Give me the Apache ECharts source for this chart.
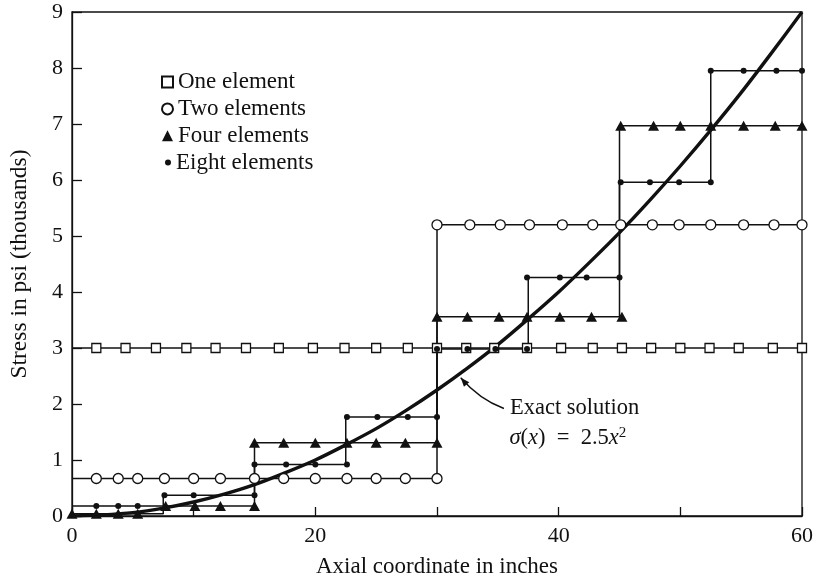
<!DOCTYPE html>
<html>
<head>
<meta charset="utf-8">
<script src="https://cdn.jsdelivr.net/npm/echarts@6/dist/echarts.min.js"></script>
<style>
  html, body { margin: 0; padding: 0; background: #fff; }
  #main { width: 826px; height: 587px; }
</style>
</head>
<body>
<div id="main"></div>
<script>
// step outlines, [x, stress]
var oneStep = [[0, 3], [60, 3]];
var twoStep = [[0, 0.67], [30, 0.67], [30, 5.2], [60, 5.2]];
var fourStep = [[0, 0.18], [15, 0.18], [15, 1.31], [30, 1.31], [30, 3.56], [45, 3.56], [45, 6.97], [60, 6.97]];
var eightStep = [[0, 0.04], [7.5, 0.04], [7.5, 0.37], [15, 0.37], [15, 0.92], [22.5, 0.92], [22.5, 1.77], [30, 1.77],
                 [30, 2.98], [37.5, 2.98], [37.5, 4.26], [45, 4.26], [45, 5.96], [52.5, 5.96], [52.5, 7.95], [60, 7.95]];

// marker positions
var oneMarks = [[2.0, 3], [4.4, 3], [6.9, 3], [9.4, 3], [11.8, 3], [14.3, 3], [17.0, 3], [19.8, 3], [22.4, 3], [25.0, 3],
                [27.6, 3], [30.0, 3], [32.4, 3], [34.7, 3], [37.4, 3], [40.2, 3], [42.8, 3], [45.2, 3], [47.6, 3], [50.0, 3],
                [52.4, 3], [54.8, 3], [57.6, 3], [60, 3]];
var twoMarks = [[2.0, 0.67], [3.8, 0.67], [5.4, 0.67], [7.6, 0.67], [10.0, 0.67], [12.2, 0.67], [15.0, 0.67], [17.4, 0.67],
                [20.0, 0.67], [22.6, 0.67], [25.0, 0.67], [27.4, 0.67], [30.0, 0.67],
                [30.0, 5.2], [32.7, 5.2], [35.2, 5.2], [37.6, 5.2], [40.3, 5.2], [42.8, 5.2], [45.1, 5.2], [47.7, 5.2],
                [49.9, 5.2], [52.5, 5.2], [55.2, 5.2], [57.7, 5.2], [60, 5.2]];
var fourMarks = [[0, 0.04], [2.0, 0.04], [3.8, 0.04], [5.4, 0.04],
                 [7.7, 0.18], [10.1, 0.18], [12.2, 0.18], [15.0, 0.18],
                 [15.0, 1.31], [17.4, 1.31], [20.0, 1.31], [22.6, 1.31], [25.0, 1.31], [27.4, 1.31], [30.0, 1.31],
                 [30.0, 3.56], [32.5, 3.56], [35.1, 3.56], [37.4, 3.56], [40.1, 3.56], [42.7, 3.56], [45.2, 3.56],
                 [45.1, 6.97], [47.8, 6.97], [50.0, 6.97], [52.5, 6.97], [55.2, 6.97], [57.8, 6.97], [60, 6.97]];
var eightMarks = [[2.0, 0.18], [3.8, 0.18], [5.4, 0.18],
                  [7.6, 0.37], [10.0, 0.37], [15.0, 0.37],
                  [15.0, 0.92], [17.6, 0.92], [20.0, 0.92], [22.6, 0.92],
                  [22.6, 1.77], [25.1, 1.77], [27.6, 1.77], [30.0, 1.77],
                  [30.0, 2.98], [32.5, 2.98], [34.8, 2.98], [37.4, 2.98],
                  [37.4, 4.26], [40.1, 4.26], [42.3, 4.26], [45.0, 4.26],
                  [45.1, 5.96], [47.5, 5.96], [49.9, 5.96], [52.5, 5.96],
                  [52.5, 7.95], [55.2, 7.95], [57.9, 7.95], [60, 7.95]];

// exact solution curve, read at every 2.5 in
var exactX = [0, 2.5, 5, 7.5, 10, 12.5, 15, 17.5, 20, 22.5, 25, 27.5, 30, 32.5, 35, 37.5, 40, 42.5, 45, 47.5, 50, 52.5, 55, 57.5, 60];
var exactY = [0, 0.02, 0.06, 0.14, 0.25, 0.39, 0.56, 0.77, 1.0, 1.27, 1.56, 1.89, 2.25, 2.64, 3.06, 3.52, 4.0, 4.52, 5.06, 5.64, 6.25, 6.89, 7.56, 8.27, 9.0];

var xTicks = [0, 20, 40, 60];

var ink = '#111';
var serif = 'Liberation Serif';

var exact = [];
for (var i = 0; i < exactX.length; i++) exact.push([exactX[i], exactY[i]]);

function stepLine(name, data) {
  return {
    name: name, type: 'line', data: data, symbol: 'none', silent: true,
    lineStyle: { color: ink, width: 1.5 }, z: 2
  };
}

var chart = echarts.init(document.getElementById('main'));
var option = {
  animation: false,
  backgroundColor: '#fff',
  grid: { left: 70, right: 24, top: 12, bottom: 71, show: true, borderColor: ink, borderWidth: 1.3 },
  legend: [{
    data: ['One element', 'Two elements', 'Four elements'],
    orient: 'vertical', left: 156, top: 65.5,
    itemWidth: 11, itemHeight: 11, itemGap: 3.9,
    textStyle: { fontFamily: serif, fontSize: 23, color: ink }
  }, {
    data: ['Eight elements'],
    orient: 'vertical', left: 160, top: 146,
    itemWidth: 6, itemHeight: 6,
    textStyle: { fontFamily: serif, fontSize: 23, color: ink }
  }],
  xAxis: {
    type: 'value', min: 0, max: 60, interval: 10,
    name: 'Axial coordinate in inches', nameLocation: 'middle', nameGap: 39,
    nameTextStyle: { fontFamily: serif, fontSize: 23, color: ink },
    axisLine: { lineStyle: { color: ink, width: 1.3 } },
    axisTick: { inside: true, length: 9, lineStyle: { color: ink, width: 1.3 } },
    axisLabel: {
      fontFamily: serif, fontSize: 22, color: ink, margin: 9,
      formatter: function (v) { return xTicks.indexOf(v) >= 0 ? String(v) : ''; }
    },
    splitLine: { show: false }
  },
  yAxis: {
    type: 'value', min: 0, max: 9, interval: 1,
    name: 'Stress in psi (thousands)', nameLocation: 'middle', nameGap: 40,
    nameTextStyle: { fontFamily: serif, fontSize: 23.5, color: ink },
    axisLine: { lineStyle: { color: ink, width: 1.3 } },
    axisTick: { inside: true, length: 10, lineStyle: { color: ink, width: 1.3 } },
    axisLabel: { fontFamily: serif, fontSize: 22, color: ink, margin: 9 },
    splitLine: { show: false }
  },
  series: [
    stepLine('one-line', oneStep),
    stepLine('two-line', twoStep),
    stepLine('four-line', fourStep),
    stepLine('eight-line', eightStep),
    {
      name: 'Exact solution', type: 'line', data: exact, symbol: 'none', smooth: 0.3, silent: true,
      lineStyle: { color: ink, width: 3.4 }, z: 3
    },
    {
      name: 'One element', type: 'scatter', data: oneMarks, symbol: 'rect', symbolSize: 9,
      itemStyle: { color: '#fff', borderColor: ink, borderWidth: 1.3, opacity: 1 }, z: 4
    },
    {
      name: 'Two elements', type: 'scatter', data: twoMarks, symbol: 'circle', symbolSize: 10,
      itemStyle: { color: '#fff', borderColor: ink, borderWidth: 1.3, opacity: 1 }, z: 4
    },
    {
      name: 'Four elements', type: 'scatter', data: fourMarks, symbol: 'triangle', symbolSize: [11, 10],
      itemStyle: { color: ink, opacity: 1 }, z: 5
    },
    {
      name: 'Eight elements', type: 'scatter', data: eightMarks, symbol: 'circle', symbolSize: 6,
      itemStyle: { color: ink, opacity: 1 }, z: 6
    }
  ]
};
chart.setOption(option);

// annotation for the exact curve, anchored in data coordinates
var tail = chart.convertToPixel({ gridIndex: 0 }, [35.5, 1.92]);
var head = chart.convertToPixel({ gridIndex: 0 }, [31.95, 2.47]);
var mid = chart.convertToPixel({ gridIndex: 0 }, [33.6, 2.14]);
var cp = [2 * mid[0] - 0.5 * (tail[0] + head[0]), 2 * mid[1] - 0.5 * (tail[1] + head[1])];
var dx = head[0] - cp[0], dy = head[1] - cp[1];
var len = Math.sqrt(dx * dx + dy * dy);
var ux = dx / len, uy = dy / len;
var al = 9, aw = 3.5;
var base = [head[0] - ux * al, head[1] - uy * al];
var txt1 = chart.convertToPixel({ gridIndex: 0 }, [36.0, 1.93]);
var txt2 = chart.convertToPixel({ gridIndex: 0 }, [35.95, 1.39]);

chart.setOption({
  graphic: [
    {
      type: 'bezierCurve', silent: true, z: 10,
      shape: { x1: tail[0], y1: tail[1], x2: head[0], y2: head[1], cpx1: cp[0], cpy1: cp[1] },
      style: { stroke: ink, lineWidth: 1.4, fill: null }
    },
    {
      type: 'polygon', silent: true, z: 10,
      shape: { points: [head, [base[0] - uy * aw, base[1] + ux * aw], [base[0] + uy * aw, base[1] - ux * aw]] },
      style: { fill: ink }
    },
    {
      type: 'text', silent: true, z: 10, x: txt1[0], y: txt1[1],
      style: { text: 'Exact solution', font: '22.5px "Liberation Serif"', fill: ink, verticalAlign: 'middle' }
    },
    {
      type: 'text', silent: true, z: 10, x: txt2[0], y: txt2[1],
      style: {
        text: '{i|σ}({i|x})  =  2.5{i|x}{s|2}',
        font: '22.5px "Liberation Serif"', fill: ink, verticalAlign: 'middle',
        rich: {
          i: { fontFamily: serif, fontSize: 22.5, fontStyle: 'italic', fill: ink },
          s: { fontFamily: serif, fontSize: 15, fill: ink, verticalAlign: 'top', padding: [0, 0, 10, 0] }
        }
      }
    }
  ]
});
</script>
</body>
</html>
